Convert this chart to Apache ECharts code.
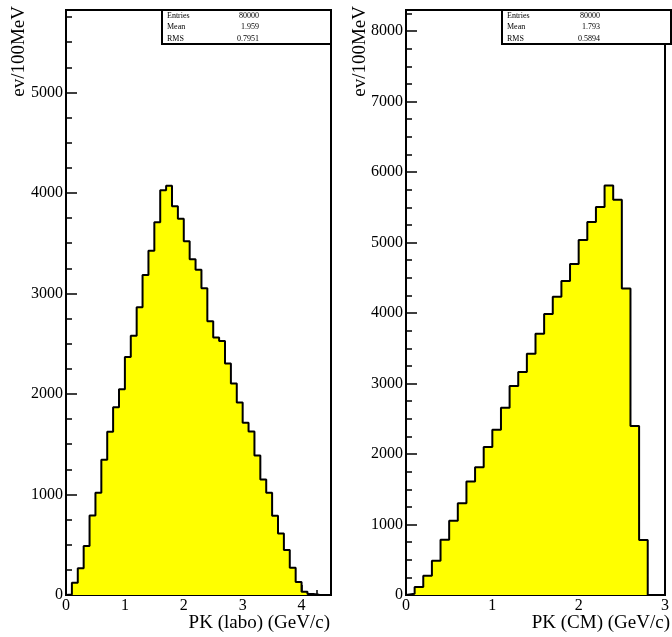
<!DOCTYPE html>
<html>
<head>
<meta charset="utf-8">
<script src="https://cdn.jsdelivr.net/npm/echarts@6/dist/echarts.min.js"></script>
<style>
html,body{margin:0;padding:0;background:#fff;}
#chart{width:672px;height:637px;}
</style>
</head>
<body>
<div id="chart"></div>
<script>
// ---- data (bin width 0.1 GeV/c, bins start at 0) ----
const binWidth = 0.1;
const labCounts = [5, 122, 265, 487, 792, 1017, 1345, 1623, 1869, 2048,
  2369, 2578, 2863, 3184, 3426, 3708, 4026, 4072, 3867, 3744,
  3519, 3340, 3237, 3052, 2724, 2561, 2528, 2303, 2104, 1915,
  1713, 1627, 1388, 1150, 1017, 789, 613, 447, 272, 129,
  33, 10, 3, 0, 0];
const cmCounts = [18, 113, 274, 487, 785, 1054, 1300, 1612, 1811, 2099,
  2345, 2657, 2965, 3163, 3423, 3707, 3986, 4232, 4454, 4695,
  5035, 5291, 5504, 5811, 5608, 4350, 2397, 780, 0, 0];
const labStats = [['Entries', '80000'], ['Mean', '1.959'], ['RMS', '0.7951']];
const cmStats = [['Entries', '80000'], ['Mean', '1.793'], ['RMS', '0.5894']];
const labXTitle = 'PK (labo) (GeV/c)';
const cmXTitle = 'PK (CM) (GeV/c)';
const yTitle = 'ev/100MeV';

function stepData(counts) {
  const d = [[0, 0]];
  counts.forEach((c, i) => d.push([+(i * binWidth).toFixed(3), c]));
  d.push([+(counts.length * binWidth).toFixed(3), 0]);
  return d;
}

const FONT = 'Liberation Serif';
const panels = [
  {left: 66, xmax: 4.5, ymax: 5820, counts: labCounts, stats: labStats, xTitle: labXTitle,
   boxLeft: 162, valRight: 259, yTitleX: 19},
  {left: 406, xmax: 3.0, ymax: 8300, counts: cmCounts, stats: cmStats, xTitle: cmXTitle,
   boxLeft: 502, valRight: 600, yTitleX: 360}
];
const gridW = 265, gridTop = 10, gridH = 585;

const grid = [], xAxis = [], yAxis = [], series = [], graphic = [];
panels.forEach((p, k) => {
  grid.push({left: p.left, top: gridTop, width: gridW, height: gridH, show: true,
    borderColor: '#000', borderWidth: 2, backgroundColor: 'transparent', containLabel: false});
  // major x axis
  xAxis.push({type: 'value', gridIndex: k, position: 'bottom', min: 0, max: p.xmax, interval: 1,
    axisLine: {onZero: false, lineStyle: {color: '#000', width: 2}},
    axisTick: {inside: true, length: 10, lineStyle: {color: '#000', width: 1.5}},
    axisLabel: {color: '#000', fontFamily: FONT, fontSize: 16, margin: 3, showMaxLabel: true,
      formatter: v => (Math.abs(v - Math.round(v)) < 1e-6 ? String(Math.round(v)) : '')},
    splitLine: {show: false}});
  // minor x axis
  xAxis.push({type: 'value', gridIndex: k, position: 'bottom', min: 0, max: p.xmax, interval: 0.25,
    axisLine: {show: false, onZero: false},
    axisTick: {inside: true, length: 5, lineStyle: {color: '#000', width: 1.5}},
    axisLabel: {show: false}, splitLine: {show: false}});
  // major y axis
  yAxis.push({type: 'value', gridIndex: k, position: 'left', min: 0, max: p.ymax, interval: 1000,
    axisLine: {onZero: false, lineStyle: {color: '#000', width: 2}},
    axisTick: {inside: true, length: 11, lineStyle: {color: '#000', width: 1.5}},
    axisLabel: {color: '#000', fontFamily: FONT, fontSize: 16, margin: 3, showMaxLabel: false,
      formatter: v => (v % 1000 === 0 ? String(v) : '')},
    splitLine: {show: false}});
  // minor y axis
  yAxis.push({type: 'value', gridIndex: k, position: 'left', min: 0, max: p.ymax, interval: 250,
    axisLine: {show: false, onZero: false},
    axisTick: {inside: true, length: 6, lineStyle: {color: '#000', width: 1.5}},
    axisLabel: {show: false}, splitLine: {show: false}});

  series.push({type: 'line', xAxisIndex: 2 * k, yAxisIndex: 2 * k, step: 'end',
    data: stepData(p.counts), symbol: 'none', silent: true,
    lineStyle: {color: '#000', width: 2},
    areaStyle: {color: '#ffff00', opacity: 1}, z: 1});

  // stats box
  const boxW = p.left + gridW - p.boxLeft;
  graphic.push({type: 'rect', z: 100, shape: {x: p.boxLeft, y: gridTop, width: boxW, height: 34},
    style: {fill: '#fff', stroke: '#000', lineWidth: 2}});
  p.stats.forEach((row, r) => {
    const y = gridTop + 5.5 + r * 11.5;
    graphic.push({type: 'text', z: 101, x: p.boxLeft + 5, y: y,
      style: {text: row[0], fontFamily: FONT, fontSize: 8, fill: '#000', align: 'left', verticalAlign: 'middle'}});
    graphic.push({type: 'text', z: 101, x: p.valRight, y: y,
      style: {text: row[1], fontFamily: FONT, fontSize: 8, fill: '#000', align: 'right', verticalAlign: 'middle'}});
  });
  // axis titles
  graphic.push({type: 'text', z: 101, x: p.left + gridW - 1, y: 623,
    style: {text: p.xTitle, fontFamily: FONT, fontSize: 19, fill: '#000', align: 'right', verticalAlign: 'middle'}});
  graphic.push({type: 'text', z: 101, x: p.yTitleX, y: 6, rotation: Math.PI / 2,
    style: {text: yTitle, fontFamily: FONT, fontSize: 19, fill: '#000', align: 'right', verticalAlign: 'middle'}});
});

const chart = echarts.init(document.getElementById('chart'), null, {renderer: 'canvas'});
chart.setOption({animation: false, backgroundColor: '#fff', grid, xAxis, yAxis, series, graphic});
</script>
</body>
</html>
